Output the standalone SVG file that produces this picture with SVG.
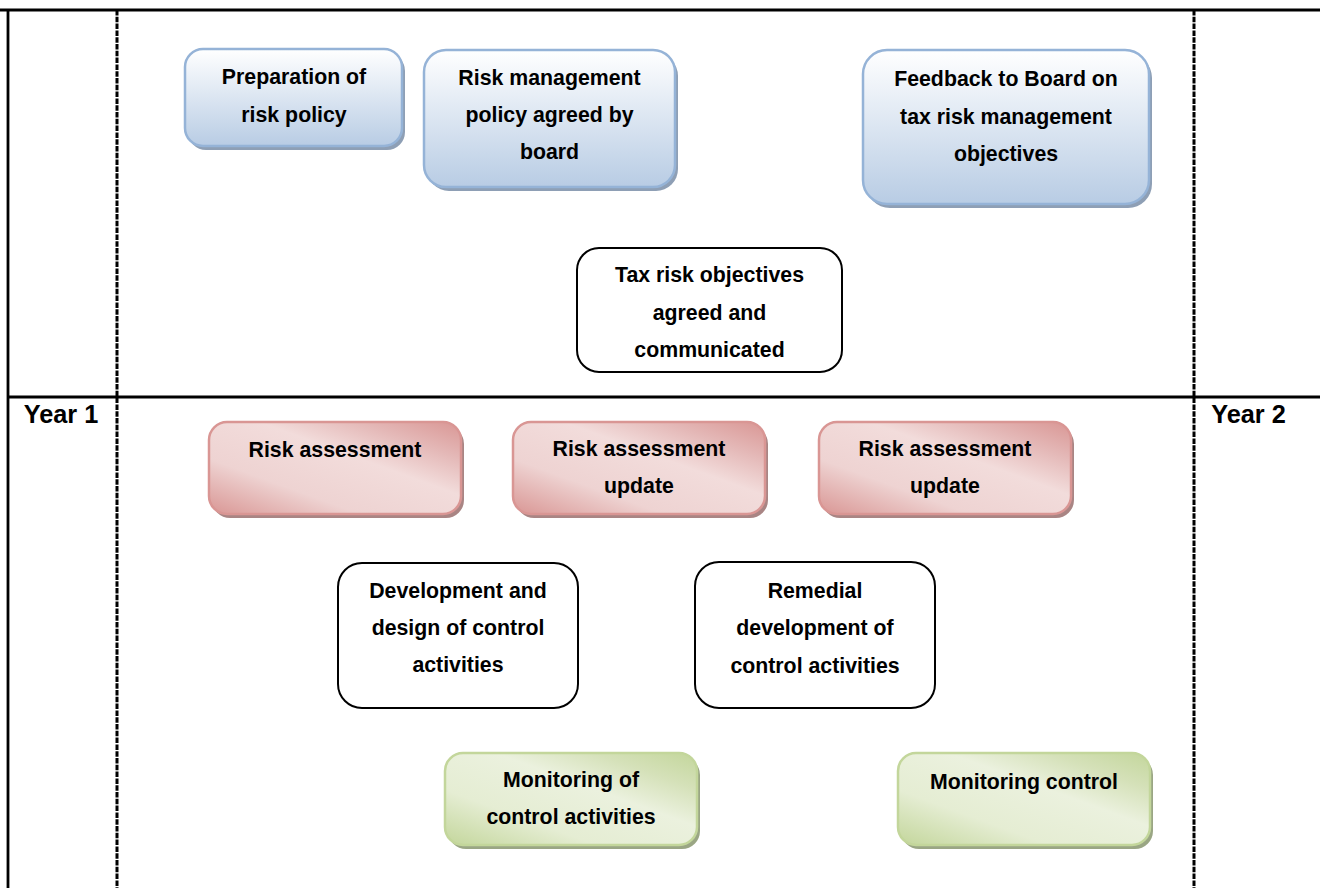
<svg xmlns="http://www.w3.org/2000/svg" width="1320" height="888" viewBox="0 0 1320 888">
<style>
  .t { font-family: "Liberation Sans", Arial, sans-serif; font-weight: bold; font-size: 21.3px; fill: #000; text-anchor: middle; }
  .yr { font-family: "Liberation Sans", Arial, sans-serif; font-weight: bold; font-size: 25.3px; fill: #000; text-anchor: middle; }
  .grid { stroke: #000; stroke-width: 2.8; fill: none; }
  .dash { stroke: #000; stroke-width: 3; fill: none; stroke-dasharray: 5.5 1.3; }
  .blue { fill: url(#gBlue); stroke: #95b3d7; stroke-width: 2.5; }
  .red { fill: url(#gRed); stroke: #d99694; stroke-width: 2.5; }
  .green { fill: url(#gGreen); stroke: #c3d69b; stroke-width: 2.5; }
  .white { fill: #fff; stroke: #000; stroke-width: 2; }
  .shB { fill: #8e9fb5; }
  .shR { fill: #a98584; }
  .shG { fill: #9aa684; }
</style>
<defs>
  <linearGradient id="gBlue" x1="0" y1="0" x2="0" y2="1">
    <stop offset="0" stop-color="#ffffff"/>
    <stop offset="1" stop-color="#b8cce4"/>
  </linearGradient>
  <linearGradient id="gRed" x1="0" y1="1" x2="1" y2="0">
    <stop offset="0" stop-color="#d99694"/>
    <stop offset="0.3" stop-color="#eed3d2"/>
    <stop offset="0.6" stop-color="#f2dcdb"/>
    <stop offset="0.8" stop-color="#e4b8b7"/>
    <stop offset="1" stop-color="#d99694"/>
  </linearGradient>
  <linearGradient id="gGreen" x1="0" y1="1" x2="1" y2="0">
    <stop offset="0" stop-color="#c3d69b"/>
    <stop offset="0.3" stop-color="#e5edd3"/>
    <stop offset="0.6" stop-color="#ebf1de"/>
    <stop offset="0.8" stop-color="#d5e1b9"/>
    <stop offset="1" stop-color="#c3d69b"/>
  </linearGradient>
</defs>

<rect x="0" y="0" width="1320" height="888" fill="#fff"/>

<g id="grid">
  <line class="grid" x1="0" y1="10" x2="1320" y2="10"/>
  <line class="grid" x1="8" y1="10" x2="8" y2="888"/>
  <line class="grid" x1="8" y1="397" x2="1320" y2="397"/>
  <line class="dash" x1="117" y1="10" x2="117" y2="888"/>
  <line class="dash" x1="1194" y1="10" x2="1194" y2="888"/>
  <text class="yr" x="61" y="423">Year 1</text>
  <text class="yr" x="1248.5" y="423">Year 2</text>
</g>

<g id="connectors"></g>

<g id="prep">
  <rect class="shB" x="188" y="53" width="217" height="97" rx="18"/>
  <rect class="blue" x="185" y="49" width="217" height="97" rx="18"/>
  <text class="t" x="294" y="84">Preparation of</text>
  <text class="t" x="294" y="121.5">risk policy</text>
</g>

<g id="policy">
  <rect class="shB" x="427" y="54" width="251" height="137" rx="22"/>
  <rect class="blue" x="424" y="50" width="251" height="137" rx="22"/>
  <text class="t" x="549.5" y="85">Risk management</text>
  <text class="t" x="549.5" y="122">policy agreed by</text>
  <text class="t" x="549.5" y="159">board</text>
</g>

<g id="feedback">
  <rect class="shB" x="866" y="54" width="286" height="154" rx="24"/>
  <rect class="blue" x="863" y="50" width="286" height="154" rx="24"/>
  <text class="t" x="1006" y="86">Feedback to Board on</text>
  <text class="t" x="1006" y="123.5">tax risk management</text>
  <text class="t" x="1006" y="161">objectives</text>
</g>

<g id="taxobj">
  <rect class="white" x="577" y="248" width="265" height="124" rx="22"/>
  <text class="t" x="709.5" y="282">Tax risk objectives</text>
  <text class="t" x="709.5" y="320">agreed and</text>
  <text class="t" x="709.5" y="357">communicated</text>
</g>

<g id="ra1">
  <rect class="shR" x="212" y="426" width="252" height="92" rx="18"/>
  <rect class="red" x="209" y="422" width="252" height="92" rx="18"/>
  <text class="t" x="335" y="457">Risk assessment</text>
</g>

<g id="ra2">
  <rect class="shR" x="516" y="426" width="252" height="92" rx="18"/>
  <rect class="red" x="513" y="422" width="252" height="92" rx="18"/>
  <text class="t" x="639" y="456">Risk assessment</text>
  <text class="t" x="639" y="493">update</text>
</g>

<g id="ra3">
  <rect class="shR" x="822" y="426" width="252" height="92" rx="18"/>
  <rect class="red" x="819" y="422" width="252" height="92" rx="18"/>
  <text class="t" x="945" y="456">Risk assessment</text>
  <text class="t" x="945" y="493">update</text>
</g>

<g id="devdesign">
  <rect class="white" x="338" y="563" width="240" height="145" rx="24"/>
  <text class="t" x="458" y="598">Development and</text>
  <text class="t" x="458" y="635">design of control</text>
  <text class="t" x="458" y="672">activities</text>
</g>

<g id="remedial">
  <rect class="white" x="695" y="562" width="240" height="146" rx="24"/>
  <text class="t" x="815" y="598">Remedial</text>
  <text class="t" x="815" y="635">development of</text>
  <text class="t" x="815" y="673">control activities</text>
</g>

<g id="mon1">
  <rect class="shG" x="448" y="757" width="252" height="92" rx="18"/>
  <rect class="green" x="445" y="753" width="252" height="92" rx="18"/>
  <text class="t" x="571" y="787">Monitoring of</text>
  <text class="t" x="571" y="823.5">control activities</text>
</g>

<g id="mon2">
  <rect class="shG" x="901" y="757" width="252" height="92" rx="18"/>
  <rect class="green" x="898" y="753" width="252" height="92" rx="18"/>
  <text class="t" x="1024" y="789">Monitoring control</text>
</g>
</svg>
